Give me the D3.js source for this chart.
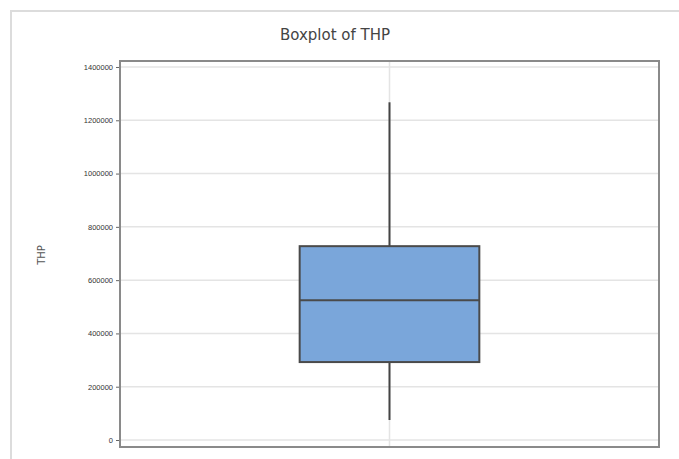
<!DOCTYPE html>
<html>
<head>
<meta charset="utf-8">
<script src="https://cdn.jsdelivr.net/npm/d3@7"></script>
<style>
  body { margin: 0; background: #fff; }
  svg { display: block; font-family: "DejaVu Sans", sans-serif; }
</style>
</head>
<body>
<div id="chart"></div>
<script>
// box statistics
const categories = ['THP']
const whiskerLow = [75000]
const q1 = [292500]
const median = [525000]
const q3 = [727500]
const whiskerHigh = [1267500]
const yTicks = [0, 200000, 400000, 600000, 800000, 1000000, 1200000, 1400000]

const W = 679, H = 459
const margin = { top: 61, right: 20, bottom: 12, left: 120 }
const plotW = 659 - margin.left
const plotH = 447 - margin.top

const svg = d3.select('#chart').append('svg').attr('width', W).attr('height', H)

// outer frame
svg.append('path')
  .attr('d', `M11,${H} L11,11 L${W},11`)
  .attr('fill', 'none').attr('stroke', '#dcdcdc').attr('stroke-width', 2)

svg.append('text')
  .attr('x', 335).attr('y', 40)
  .attr('text-anchor', 'middle')
  .attr('font-size', 15).attr('fill', '#444')
  .text('Boxplot of THP')

const g = svg.append('g').attr('transform', `translate(${margin.left},${margin.top})`)

const y = d3.scaleLinear().domain([-26250, 1422500]).range([plotH, 0])
const x = d3.scaleBand().domain(categories).range([0, plotW]).padding(0.5)

// grid
g.selectAll('.hgrid').data(yTicks).enter().append('line')
  .attr('x1', 0).attr('x2', plotW)
  .attr('y1', d => y(d)).attr('y2', d => y(d))
  .attr('stroke', '#e4e4e4').attr('stroke-width', 1.5)
g.selectAll('.vgrid').data(categories).enter().append('line')
  .attr('x1', d => x(d) + x.bandwidth() / 2).attr('x2', d => x(d) + x.bandwidth() / 2)
  .attr('y1', 0).attr('y2', plotH)
  .attr('stroke', '#e4e4e4').attr('stroke-width', 1.5)

// y axis
const yAxis = g.append('g')
  .call(d3.axisLeft(y).tickValues(yTicks).tickSize(4).tickPadding(3).tickFormat(d3.format('d')))
yAxis.select('.domain').remove()
yAxis.selectAll('line').attr('stroke', '#666')
yAxis.selectAll('text').attr('font-size', 7.5).attr('fill', '#333')

// boxes
categories.forEach((c, i) => {
  const cx = x(c) + x.bandwidth() / 2
  g.append('line')
    .attr('x1', cx).attr('x2', cx)
    .attr('y1', y(whiskerHigh[i])).attr('y2', y(q3[i]))
    .attr('stroke', '#444').attr('stroke-width', 2)
  g.append('line')
    .attr('x1', cx).attr('x2', cx)
    .attr('y1', y(q1[i])).attr('y2', y(whiskerLow[i]))
    .attr('stroke', '#444').attr('stroke-width', 2)
  g.append('rect')
    .attr('x', x(c)).attr('width', x.bandwidth())
    .attr('y', y(q3[i])).attr('height', y(q1[i]) - y(q3[i]))
    .attr('fill', '#7aa6da').attr('stroke', '#4a4a4a').attr('stroke-width', 2)
  g.append('line')
    .attr('x1', x(c)).attr('x2', x(c) + x.bandwidth())
    .attr('y1', y(median[i])).attr('y2', y(median[i]))
    .attr('stroke', '#4a4a4a').attr('stroke-width', 2)
})

// plot border
g.append('rect')
  .attr('x', 0).attr('y', 0).attr('width', plotW).attr('height', plotH)
  .attr('fill', 'none').attr('stroke', '#8a8a8a').attr('stroke-width', 2)

svg.append('text')
  .attr('transform', 'translate(45,255) rotate(-90)')
  .attr('text-anchor', 'middle')
  .attr('font-size', 10).attr('fill', '#555')
  .text('THP')
</script>
</body>
</html>
